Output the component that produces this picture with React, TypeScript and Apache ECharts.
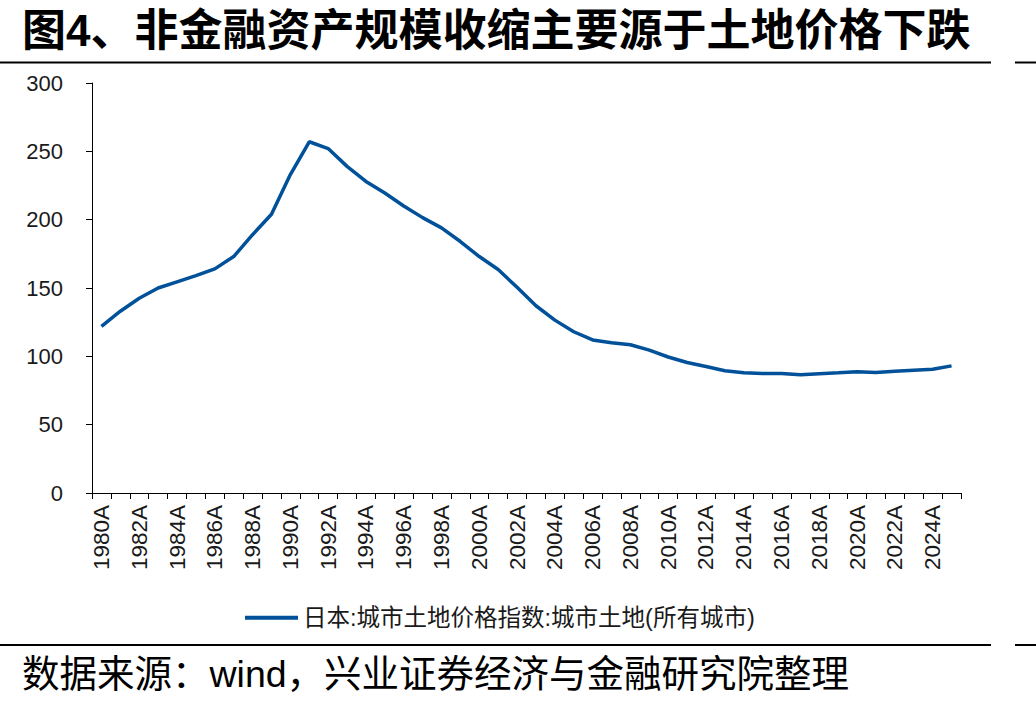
import React, { useEffect, useRef } from "react";
import * as echarts from "echarts";

// Years 1980A … 2025A
const years: string[] = [];
for (let y = 1980; y <= 2025; y++) years.push(`${y}A`);

// 日本:城市土地价格指数:城市土地(所有城市)
const landPriceIndex: number[] = [
  122, 133, 142.5, 150, 154.5, 159, 164, 173, 189, 204,
  233, 257, 252, 239, 228, 219.5, 210, 201.5, 194, 184,
  173, 163.5, 150.5, 137, 126.5, 118, 112, 110, 108.5, 104.5,
  99.5, 95.5, 92.5, 89.5, 88, 87.5, 87.5, 86.5, 87.3, 88,
  88.8, 88.2, 89, 89.8, 90.5, 93,
];

const seriesName = "日本:城市土地价格指数:城市土地(所有城市)";
const titleText = "图4、非金融资产规模收缩主要源于土地价格下跌";
const sourceText = "数据来源：wind，兴业证券经济与金融研究院整理";

const LATIN = '"Liberation Sans", Arial, "Noto Sans CJK SC", sans-serif';
const LINE_COLOR = "#00519A";

export default function App() {
  const ref = useRef<HTMLDivElement>(null);

  useEffect(() => {
    if (!ref.current) return;
    const chart = echarts.init(ref.current, undefined, { renderer: "svg" });
    chart.setOption({
      animation: false,
      backgroundColor: "#ffffff",
      grid: { left: 92, top: 83, width: 869, height: 410, containLabel: false },
      xAxis: {
        type: "category",
        data: years,
        boundaryGap: true,
        axisLine: { show: true, lineStyle: { color: "#000", width: 1 } },
        axisTick: { show: true, interval: 0, length: 6, lineStyle: { color: "#000" } },
        axisLabel: {
          interval: 1,
          rotate: 90,
          margin: 12,
          fontSize: 22.5,
          color: "#1a1a1a",
          fontFamily: LATIN,
        },
        splitLine: { show: false },
      },
      yAxis: {
        type: "value",
        min: 0,
        max: 300,
        interval: 50,
        axisLine: { show: true, lineStyle: { color: "#000", width: 1 } },
        axisTick: { show: true, length: 6, lineStyle: { color: "#000" } },
        axisLabel: {
          margin: 29,
          fontSize: 22,
          color: "#1a1a1a",
          fontFamily: LATIN,
        },
        splitLine: { show: false },
      },
      legend: {
        left: 240,
        top: 601,
        icon: "rect",
        itemWidth: 53,
        itemHeight: 4,
        textStyle: { fontSize: 23.5, color: "#1a1a1a", fontFamily: LATIN },
        data: [seriesName],
      },
      series: [
        {
          name: seriesName,
          type: "line",
          data: landPriceIndex,
          symbol: "none",
          smooth: false,
          lineStyle: { color: LINE_COLOR, width: 3.5 },
          itemStyle: { color: LINE_COLOR },
        },
      ],
      graphic: [
        {
          type: "text",
          left: 22,
          top: 8,
          style: {
            text: titleText,
            fontSize: 44,
            fontWeight: "bold",
            fill: "#000",
            fontFamily: LATIN,
          },
        },
        {
          type: "line",
          shape: { x1: 0, y1: 62.5, x2: 991, y2: 62.5 },
          style: { stroke: "#000", lineWidth: 2 },
        },
        {
          type: "line",
          shape: { x1: 1015, y1: 62.5, x2: 1036, y2: 62.5 },
          style: { stroke: "#000", lineWidth: 2 },
        },
        {
          type: "line",
          shape: { x1: 0, y1: 645, x2: 991, y2: 645 },
          style: { stroke: "#000", lineWidth: 2 },
        },
        {
          type: "line",
          shape: { x1: 1015, y1: 645, x2: 1036, y2: 645 },
          style: { stroke: "#000", lineWidth: 2 },
        },
        {
          type: "text",
          left: 22,
          top: 655,
          style: {
            text: sourceText,
            fontSize: 37.5,
            fill: "#000",
            fontFamily: LATIN,
          },
        },
      ],
    });
    return () => chart.dispose();
  }, []);

  return (
    <div
      ref={ref}
      style={{ position: "absolute", left: 0, top: 0, width: 1036, height: 710 }}
    />
  );
}
